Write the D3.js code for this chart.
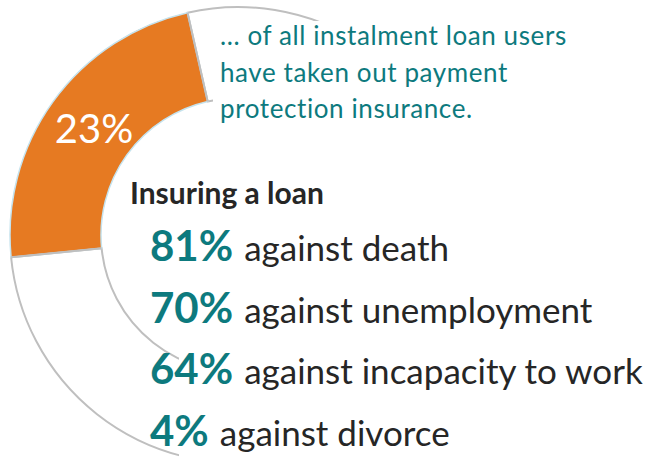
<!DOCTYPE html>
<html><head><meta charset="utf-8">
<script src="https://cdn.jsdelivr.net/npm/d3@7"></script>
<style>
html,body{margin:0;padding:0;background:#fff;}
svg{display:block;}
text{font-family:Lato,"Open Sans",sans-serif;}
</style></head>
<body>
<script>
// ---- data ----
const shareValues = [23, 77];
const shareLabels = ["23%", ""];
const annotationLines = ["... of all instalment loan users", "have taken out payment", "protection insurance."];
const sectionTitle = "Insuring a loan";
const coverPct = [81, 70, 64, 4];
const coverLabels = ["against death", "against unemployment", "against incapacity to work", "against divorce"];

const W = 646, H = 458;
const svg = d3.select("body").append("svg").attr("width", W).attr("height", H);

const cx = 238, cy = 235, rOuter = 228, rInner = 137;
const start = -95.6 * Math.PI / 180;

// mask: text boxes hide parts of the ring
const defs = svg.append("defs");
const mask = defs.append("mask").attr("id", "boxes");
mask.append("rect").attr("x", 0).attr("y", 0).attr("width", W).attr("height", H).attr("fill", "#fff");
mask.append("rect").attr("x", 213).attr("y", 21).attr("width", W).attr("height", H).attr("fill", "#000");
mask.append("rect").attr("x", 179).attr("y", 300).attr("width", W).attr("height", H).attr("fill", "#000");

const pie = d3.pie().sort(null).startAngle(start).endAngle(start + 2 * Math.PI);
const arc = d3.arc().innerRadius(rInner).outerRadius(rOuter);
const arcs = pie(shareValues);

const g = svg.append("g").attr("transform", `translate(${cx},${cy})`);
const ring = g.append("g").attr("mask", "url(#boxes)").attr("transform", `translate(${-cx},${-cy})`)
  .append("g").attr("transform", `translate(${cx},${cy})`);

// rest (white with grey outline)
ring.append("path").attr("d", arc(arcs[1]))
  .attr("fill", "#fff").attr("stroke", "#bfbfbf").attr("stroke-width", 2);
// highlighted share
ring.append("path").attr("d", arc(arcs[0]))
  .attr("fill", "#E67A22").attr("stroke", "#c5e3ee").attr("stroke-width", 1.5);
// grey radial edges on top
const radial = (a) => {
  const s = Math.sin(a), c = -Math.cos(a);
  return `M${rInner * s},${rInner * c}L${rOuter * s},${rOuter * c}`;
};
ring.append("path").attr("d", radial(arcs[0].startAngle) + radial(arcs[0].endAngle))
  .attr("stroke", "#bfbfbf").attr("stroke-width", 2).attr("fill", "none");

const cen = arc.centroid(arcs[0]);
g.append("text").attr("x", cen[0] + 4).attr("y", cen[1] + 15)
  .attr("text-anchor", "middle").attr("fill", "#fff").attr("font-size", 40)
  .text(shareLabels[0]);

// annotation
svg.append("g").selectAll("text").data(annotationLines).join("text")
  .attr("x", 220).attr("y", (d, i) => 45 + i * 36.5)
  .attr("fill", "#0d7a7e").attr("font-size", 26).attr("letter-spacing", 0.6).text(d => d);

// title
svg.append("text").attr("x", 130).attr("y", 204)
  .attr("fill", "#262626").attr("font-size", 30).attr("font-weight", 700).text(sectionTitle);

// rows
const yRow = d3.scalePoint().domain(coverLabels).range([261, 446]);
const rows = svg.append("g").selectAll("text").data(coverLabels).join("text")
  .attr("x", 150).attr("y", d => yRow(d));
rows.append("tspan").attr("fill", "#0d7a7e").attr("font-weight", 700).attr("font-size", 42)
  .text((d, i) => coverPct[i] + "%");
rows.append("tspan").attr("fill", "#262626").attr("font-size", 35).attr("dx", 11)
  .text(d => d);
</script>
</body></html>
